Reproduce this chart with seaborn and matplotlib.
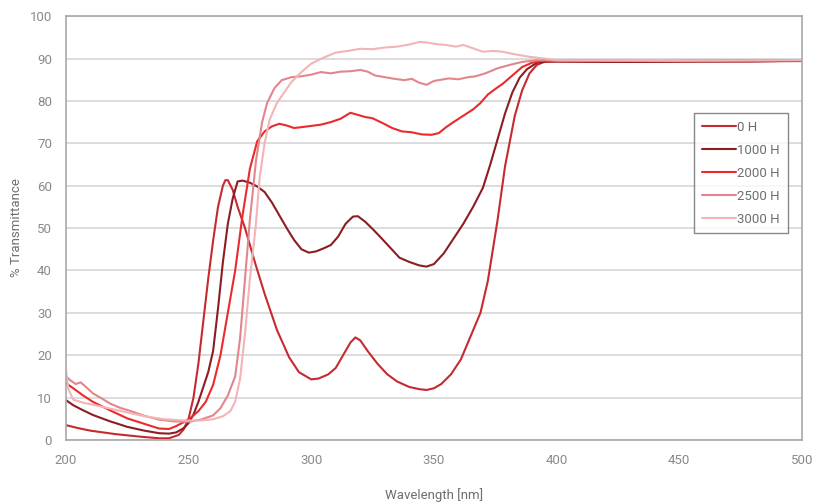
import numpy as np
import pandas as pd
import seaborn as sns
import matplotlib.pyplot as plt

# wavelength [nm] / % transmittance
wl_0h = [200, 205, 210, 220, 230, 238, 242, 246, 248, 250, 252, 254, 256, 258, 260, 262, 264, 265, 266, 268,
         270, 273, 277, 281, 286, 291, 295, 300, 303, 307, 310, 313, 316, 318, 320, 323, 327, 331, 335, 340,
         344, 347, 350, 353, 357, 361, 365, 369, 372, 376, 379, 383, 386, 389, 392, 395, 400, 420, 450, 480, 500]
t_0h = [3.5, 2.8, 2.2, 1.4, 0.8, 0.4, 0.4, 1.2, 2.5, 5, 10, 18, 28, 38, 47, 55, 60, 61.3, 61.3, 59,
        55, 50, 42, 34.5, 26, 19.5, 16, 14.3, 14.5, 15.5, 17, 20, 23, 24.2, 23.5, 21, 18, 15.5, 13.8, 12.5,
        12, 11.8, 12.2, 13.2, 15.5, 19, 24.5, 30, 37.5, 52, 64.5, 76.5, 82.5, 86.5, 88.5, 89.2, 89.3, 89.2, 89.3, 89.3, 89.5]

wl_1000h = [200, 203, 207, 211, 218, 225, 232, 238, 242, 245, 248, 250, 252, 254, 256, 258, 260, 262, 264, 266,
            268, 270, 272, 275, 278, 281, 284, 287, 290, 293, 296, 299, 302, 305, 308, 311, 314, 317, 319, 322,
            325, 328, 332, 336, 340, 344, 347, 350, 354, 358, 362, 366, 370, 373, 376, 379, 382, 385, 388, 392,
            396, 400, 430, 460, 500]
t_1000h = [9.4, 8.2, 7, 5.9, 4.4, 3.1, 2.2, 1.6, 1.5, 1.8, 2.8, 4, 6, 9, 12.5, 16, 21, 31, 42, 51,
           57, 61, 61.2, 60.7, 59.8, 58.5, 56, 53, 50, 47.2, 45, 44.2, 44.5, 45.2, 46, 48, 51, 52.7, 52.8, 51.5,
           49.8, 48, 45.5, 43, 42, 41.2, 40.9, 41.5, 44, 47.5, 51, 55, 59.5, 65, 71, 77, 82, 85.5, 87.5, 89,
           89.3, 89.3, 89.2, 89.3, 89.4]

wl_2000h = [200, 203, 207, 211, 218, 225, 232, 238, 242, 245, 248, 251, 254, 257, 260, 263, 266, 269, 272, 275,
            278, 281, 284, 287, 290, 293, 296, 300, 304, 308, 312, 316, 319, 322, 325, 329, 333, 337, 341, 345,
            349, 352, 355, 358, 362, 366, 369, 372, 375, 378, 382, 386, 390, 395, 400, 440, 500]
t_2000h = [13.4, 12.2, 10.5, 9, 7, 5.1, 3.8, 2.7, 2.6, 3.3, 4.2, 5.3, 6.8, 9, 13, 20, 30, 40, 53, 64,
           70.5, 72.8, 74, 74.6, 74.2, 73.6, 73.8, 74.1, 74.4, 75, 75.8, 77.2, 76.7, 76.2, 75.9, 74.8, 73.6, 72.8, 72.6, 72.1,
           72, 72.4, 73.8, 75, 76.5, 78, 79.5, 81.5, 82.8, 84, 86, 88, 89, 89.6, 89.5, 89.4, 89.6]

wl_2500h = [200, 202, 204, 206, 208, 211, 214, 218, 222, 226, 232, 238, 244, 250, 255, 260, 263, 266, 269, 271,
            273, 275, 277.5, 280, 282, 285, 288, 292, 296, 300, 304, 308, 312, 316, 320, 323, 326, 330, 334, 338,
            341, 344, 347, 350, 353, 356, 360, 364, 367, 371, 376, 381, 386, 392, 400, 450, 500]
t_2500h = [15, 14, 13.2, 13.6, 12.6, 11, 10, 8.6, 7.6, 6.9, 5.7, 4.8, 4.4, 4.3, 4.8, 5.8, 7.5, 10.5, 15, 24,
           38, 52, 66, 75, 79.5, 83, 84.9, 85.6, 85.8, 86.2, 86.8, 86.5, 86.9, 87, 87.3, 86.9, 86, 85.6, 85.2, 84.9,
           85.2, 84.3, 83.8, 84.7, 85, 85.3, 85.1, 85.6, 85.8, 86.5, 87.7, 88.5, 89.2, 89.6, 89.5, 89.5, 89.6]

wl_3000h = [200, 201, 203, 207, 212, 218, 225, 232, 240, 248, 255, 260, 264, 267, 269, 271, 273, 275, 277.3, 279,
            281, 283, 286, 289, 292, 296, 300, 305, 310, 315, 320, 325, 330, 335, 340, 344, 347, 351, 355, 359,
            362, 366, 370, 374, 378, 383, 389, 395, 400, 450, 500]
t_3000h = [16.5, 12, 9.5, 8.8, 8.2, 7.4, 6.5, 5.6, 4.9, 4.6, 4.6, 4.9, 5.6, 6.8, 9, 14.5, 25, 38, 50, 62,
           70, 75.5, 79.5, 82, 84.5, 86.8, 88.8, 90.2, 91.4, 91.8, 92.3, 92.2, 92.6, 92.8, 93.3, 93.9, 93.8, 93.4, 93.2, 92.8,
           93.2, 92.4, 91.6, 91.8, 91.6, 91, 90.4, 90, 89.6, 89.5, 89.6]

labels = ['0 H', '1000 H', '2000 H', '2500 H', '3000 H']
colors = ['#c62a2f', '#8c1d22', '#ea2a2c', '#e2868b', '#f4b4b7']

frames = []
for lab, w, t in zip(labels,
                     [wl_0h, wl_1000h, wl_2000h, wl_2500h, wl_3000h],
                     [t_0h, t_1000h, t_2000h, t_2500h, t_3000h]):
    frames.append(pd.DataFrame({'wl': w, 't': t, 'series': lab}))
df = pd.concat(frames, ignore_index=True)

sns.set_theme(style='white')
plt.rcParams['font.family'] = ['Roboto', 'DejaVu Sans']

grey = '#8a8a8a'
fig = plt.figure(figsize=(8.14, 5.04), dpi=100)
ax = fig.add_axes([0.081, 0.127, 0.904, 0.841])

sns.lineplot(data=df, x='wl', y='t', hue='series', hue_order=labels,
             palette=dict(zip(labels, colors)), estimator=None, sort=False,
             linewidth=1.5, ax=ax)

ax.set_xlim(200, 500)
ax.set_ylim(0, 100)
ax.set_xticks(np.arange(200, 501, 50))
ax.set_yticks(np.arange(0, 101, 10))
ax.yaxis.grid(True, color='#d6d6d6', linewidth=1.2)
ax.set_axisbelow(True)
for s in ax.spines.values():
    s.set_color('#a8a8a8')
    s.set_linewidth(1.2)
ax.tick_params(axis='both', colors='#bdbdbd', labelcolor=grey, labelsize=9.5,
               length=4, width=1, direction='out', pad=6)

ax.set_xlabel('Wavelength [nm]', color='#6e6e6e', fontsize=9.5, labelpad=15)
ax.set_ylabel('% Transmittance', color='#6e6e6e', fontsize=9.5, labelpad=5)

leg = ax.legend(loc='upper right', bbox_to_anchor=(0.99, 0.787), frameon=True,
                fancybox=False, fontsize=9.5, handlelength=2.6, handletextpad=0.1,
                labelspacing=0.75, borderpad=0.6, title=None)
leg.get_frame().set_edgecolor('#6a6a6a')
leg.get_frame().set_linewidth(1.0)
for txt in leg.get_texts():
    txt.set_color('#6e6e6e')

fig.savefig('out.png', dpi=100)
